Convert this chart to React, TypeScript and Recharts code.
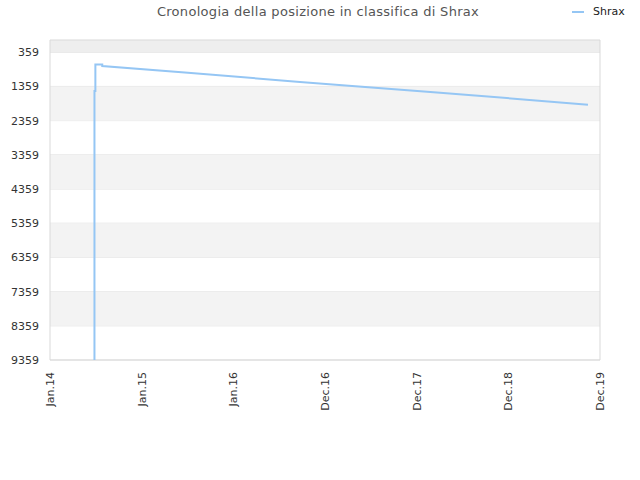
import React from "react";
import {
  LineChart,
  Line,
  XAxis,
  YAxis,
  CartesianGrid,
  ReferenceArea,
} from "recharts";

// time in years since Jan.14 (tick index units)
const times = [0.485, 0.485, 0.495, 0.495, 0.57, 0.57, 1.505, 2.727, 4.255, 5.869];
const ranks = [9359, 1490, 1490, 717, 717, 761, 957, 1229, 1542, 1893];

const xTicks = [0, 1, 2, 3, 4, 5, 6];
const xLabels = ["Jan.14", "Jan.15", "Jan.16", "Dec.16", "Dec.17", "Dec.18", "Dec.19"];
const yTicks = [359, 1359, 2359, 3359, 4359, 5359, 6359, 7359, 8359, 9359];
const bandStarts = [1359, 3359, 5359, 7359];

const seriesName = "Shrax";
const title = "Cronologia della posizione in classifica di Shrax";

const data = times.map((t, i) => ({ t, rank: ranks[i] }));

const FONT = "'DejaVu Sans', Verdana, sans-serif";
const LINE_COLOR = "#95c6f4";

const XTick = (props: any) => {
  const { x, payload } = props;
  const y = 372;
  return (
    <text
      x={x}
      y={y}
      dy="0.36em"
      textAnchor="end"
      transform={`rotate(-90, ${x}, ${y})`}
      fontSize={11}
      fill="#333"
      fontFamily={FONT}
    >
      {xLabels[payload.value] ?? ""}
    </text>
  );
};

export default function App() {
  return (
    <div
      style={{
        position: "absolute",
        left: 0,
        top: 0,
        width: 640,
        height: 480,
        background: "#fff",
        fontFamily: FONT,
      }}
    >
      <div
        style={{
          position: "absolute",
          top: 4,
          left: 0,
          width: 636,
          textAlign: "center",
          fontSize: 13,
          letterSpacing: 0.3,
          color: "#555",
          fontFamily: FONT,
        }}
      >
        {title}
      </div>
      <div
        style={{
          position: "absolute",
          top: 5,
          left: 572,
          display: "flex",
          alignItems: "center",
          fontSize: 11,
          color: "#222",
          fontFamily: FONT,
        }}
      >
        <svg width={12} height={4} style={{ marginRight: 9 }}>
          <line x1={0} y1={2} x2={12} y2={2} stroke={LINE_COLOR} strokeWidth={2} />
        </svg>
        <span>{seriesName}</span>
      </div>
      <LineChart
        width={640}
        height={480}
        data={data}
        margin={{ top: 40, right: 40, bottom: 0, left: 8 }}
      >
        <ReferenceArea y1={1} y2={359} fill="#eeeeee" fillOpacity={1} stroke="none" ifOverflow="visible" />
        {bandStarts.map((b) => (
          <ReferenceArea
            key={b}
            y1={b}
            y2={b + 1000}
            fill="#f3f3f3"
            fillOpacity={1}
            stroke="none"
          />
        ))}
        <CartesianGrid vertical={false} stroke="#e2e2e2" strokeDasharray="" horizontalValues={yTicks} />
        <ReferenceArea
          x1={0}
          x2={6}
          y1={1}
          y2={9359}
          fill="none"
          fillOpacity={0}
          stroke="#d9d9d9"
          strokeWidth={1}
        />
        <XAxis
          dataKey="t"
          type="number"
          domain={[0, 6]}
          ticks={xTicks}
          interval={0}
          height={120}
          axisLine={false}
          tickLine={false}
          tick={<XTick />}
          allowDataOverflow
        />
        <YAxis
          type="number"
          reversed
          domain={[1, 9359]}
          ticks={yTicks}
          interval={0}
          width={42}
          axisLine={false}
          tickLine={false}
          tickSize={6}
          tickMargin={5}
          tick={{ fontSize: 11, fill: "#333", fontFamily: FONT }}
          allowDataOverflow
        />
        <Line
          type="linear"
          dataKey="rank"
          name={seriesName}
          stroke={LINE_COLOR}
          strokeWidth={2}
          dot={false}
          activeDot={false}
          isAnimationActive={false}
        />
      </LineChart>
    </div>
  );
}
